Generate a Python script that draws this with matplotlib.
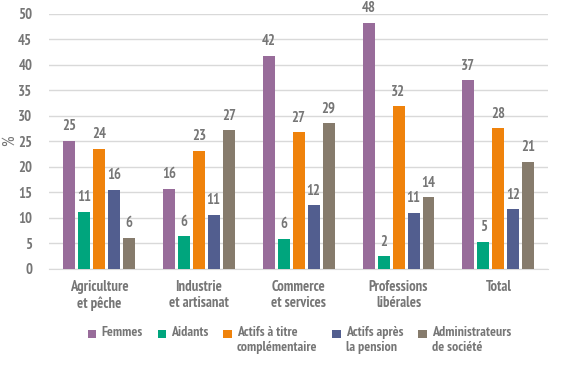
import numpy as np
import matplotlib
matplotlib.use("Agg")
import matplotlib.pyplot as plt
from matplotlib.patches import Rectangle
from matplotlib.container import BarContainer
from matplotlib.legend_handler import HandlerPatch

categories = ["Agriculture\net pêche", "Industrie\net artisanat", "Commerce\net services",
              "Professions\nlibérales", "Total"]
series_names = ["Femmes\n ", "Aidants\n ", "Actifs à titre\ncomplémentaire",
                "Actifs après\nla pension", "Administrateurs\nde société"]
femmes = [25.1, 15.7, 41.8, 48.2, 36.9]
aidants = [11.1, 6.3, 5.8, 2.4, 5.2]
actifs_compl = [23.5, 23.1, 26.7, 31.8, 27.5]
actifs_pension = [15.5, 10.6, 12.4, 10.9, 11.6]
administrateurs = [6.0, 27.1, 28.6, 14.0, 21.0]
colors = ["#986c9a", "#00a57d", "#ef820b", "#525e8f", "#867b6c"]

plt.rcParams["font.family"] = ["PT Sans Narrow", "DejaVu Sans"]
plt.rcParams["font.weight"] = "bold"
txt = "#767676"


class TopSquare(HandlerPatch):
    # square next to the first line of a two-line label
    def create_artists(self, legend, orig_handle, xdescent, ydescent, width, height,
                       fontsize, trans):
        s = 0.6 * fontsize
        col = orig_handle.patches[0].get_facecolor()
        r = Rectangle((-xdescent + width - s, -ydescent + height - 0.25 * fontsize), s, s,
                      facecolor=col, edgecolor="none", transform=trans)
        return [r]


fig = plt.figure(figsize=(5.76, 3.92), dpi=100)
ax = fig.add_axes([0.085, 0.315, 0.867, 0.65])

x = np.arange(len(categories))
width = 0.12
pitch = 0.15
all_series = [femmes, aidants, actifs_compl, actifs_pension, administrateurs]
for i, (vals, name, col) in enumerate(zip(all_series, series_names, colors)):
    pos = x + (i - 2) * pitch
    ax.bar(pos, vals, width, color=col, label=name, zorder=3)
    for p, v in zip(pos, vals):
        ax.text(p, v + 1.5, f"{v:.0f}", ha="center", va="bottom", fontsize=10.5,
                color=txt)

ax.set_xlim(-0.5, len(categories) - 0.5)
ax.set_ylim(0, 50)
ax.set_yticks(range(0, 51, 5))
ax.set_xticks(x)
ax.set_xticklabels(categories, linespacing=1.25)
ax.tick_params(axis="both", length=0, labelsize=10.5, labelcolor=txt)
ax.tick_params(axis="x", pad=8)
ax.tick_params(axis="y", pad=12)
ax.grid(axis="y", color="#d9d9d9", linewidth=1, zorder=0)
for s in ["top", "right", "left"]:
    ax.spines[s].set_visible(False)
ax.spines["bottom"].set_color("#d9d9d9")
ax.set_ylabel("%", fontsize=12, color=txt)
ax.yaxis.set_label_coords(-0.062, 0.5)

ax.legend(loc="upper center", bbox_to_anchor=(0.5, -0.175), ncol=5,
          frameon=False, fontsize=10, labelcolor=txt, handlelength=0.7,
          handleheight=0.7, handletextpad=0.35, columnspacing=1.0,
          handler_map={BarContainer: TopSquare()})

fig.savefig("out.png", dpi=100)
